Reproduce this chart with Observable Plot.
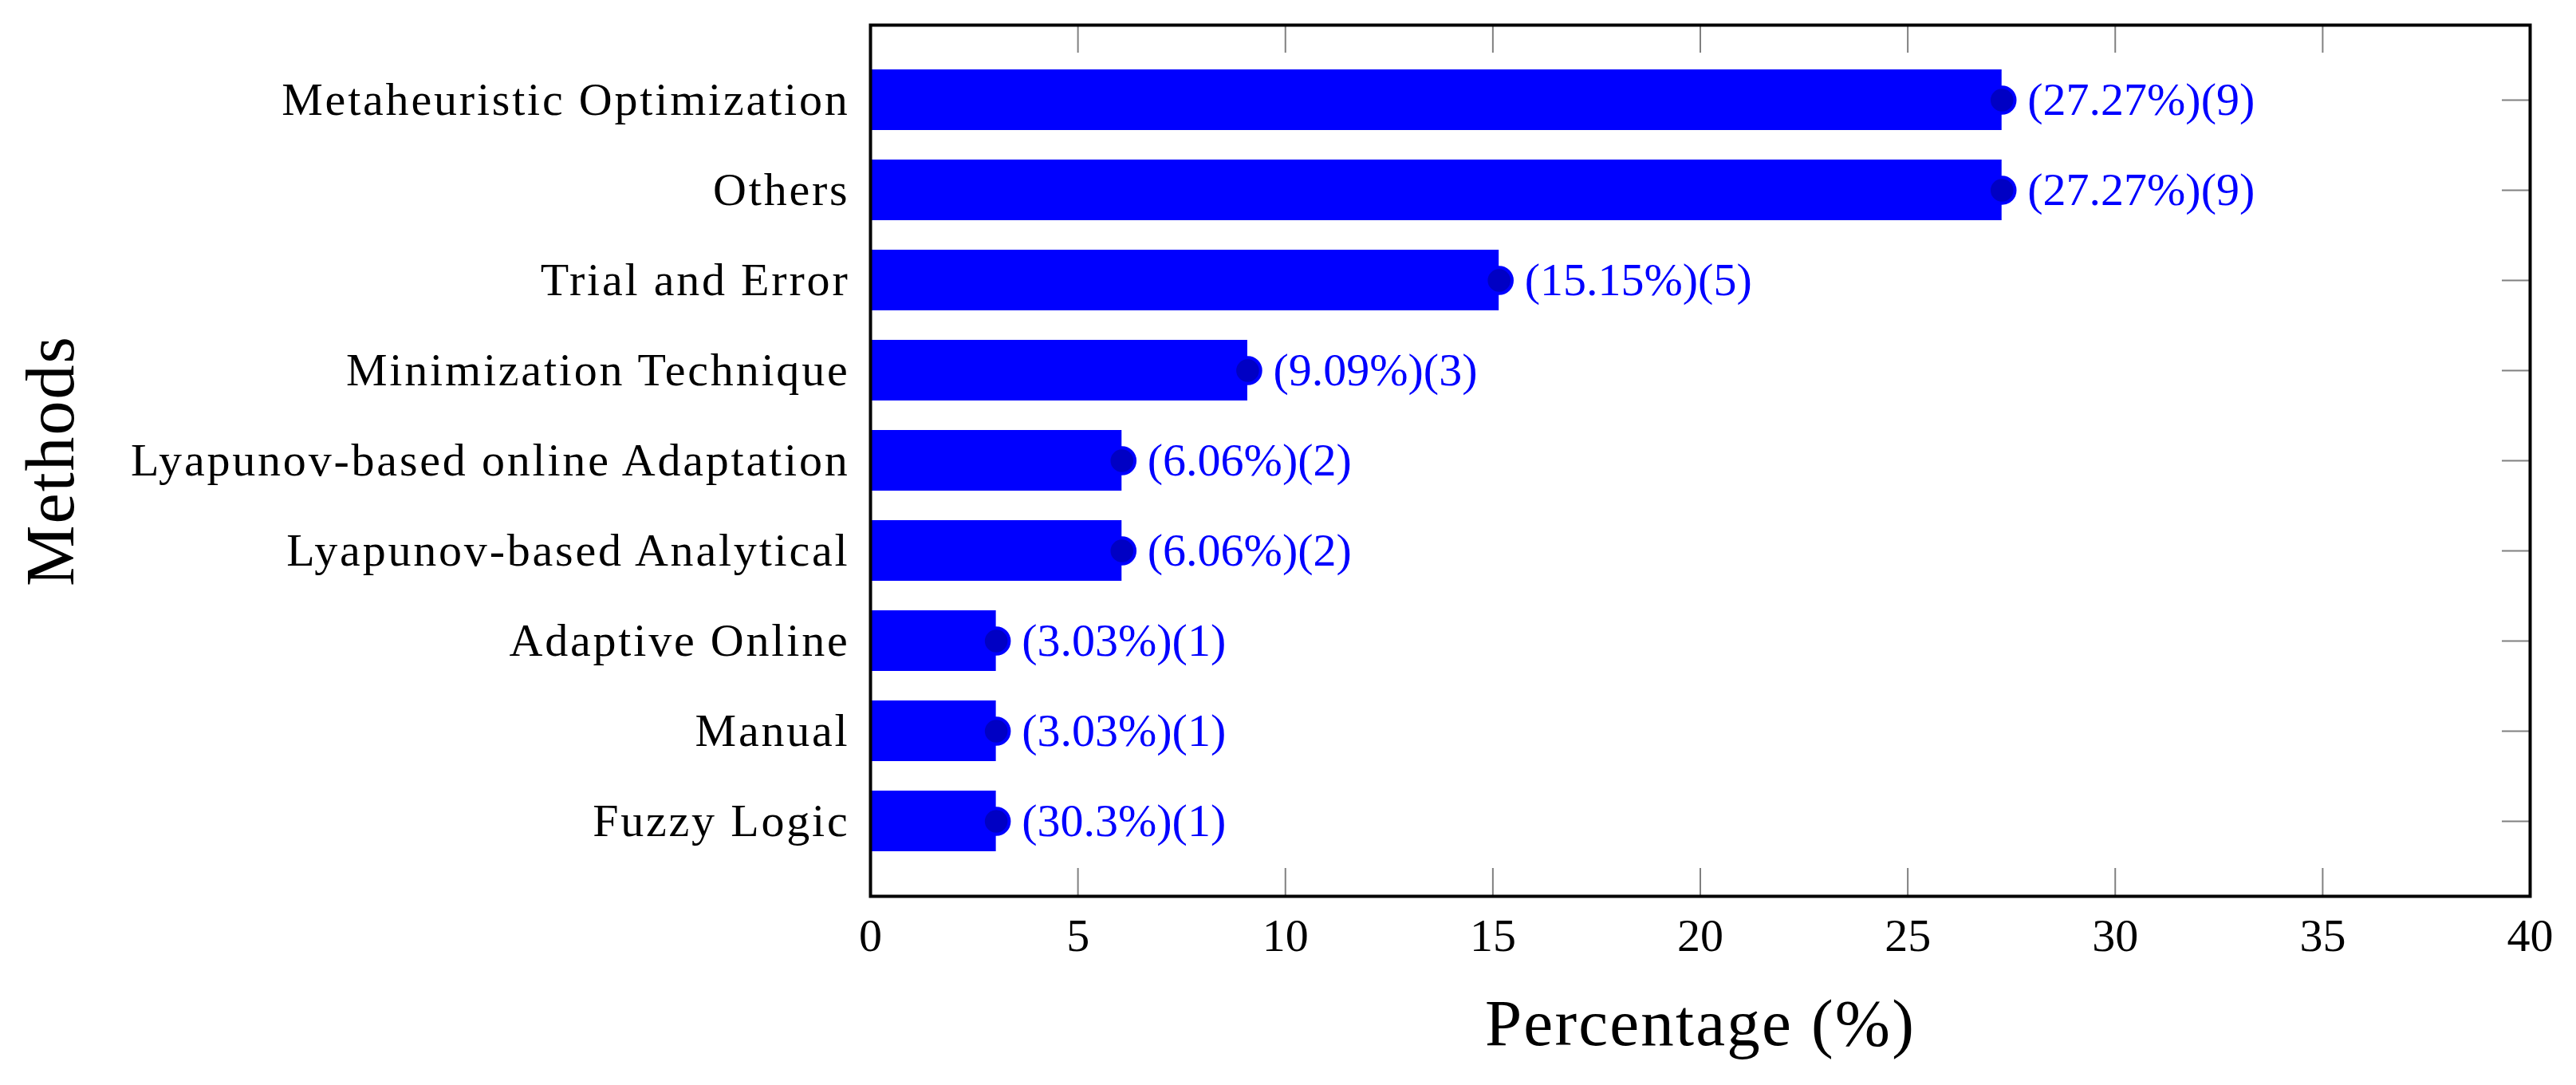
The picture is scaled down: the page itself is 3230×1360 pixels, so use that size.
<!DOCTYPE html>
<html>
<head>
<meta charset="utf-8">
<script src="https://cdn.jsdelivr.net/npm/d3@7"></script>
<script src="https://cdn.jsdelivr.net/npm/@observablehq/plot@0.6"></script>
<style>
html, body { margin: 0; padding: 0; background: #ffffff; }
</style>
</head>
<body>
<div id="chart"></div>
<script>
// ---- Data ----
const methods = [
  "Metaheuristic Optimization",
  "Others",
  "Trial and Error",
  "Minimization Technique",
  "Lyapunov-based online Adaptation",
  "Lyapunov-based Analytical",
  "Adaptive Online",
  "Manual",
  "Fuzzy Logic"
];
const percentages = [27.27, 27.27, 15.15, 9.09, 6.06, 6.06, 3.03, 3.03, 3.03];
const percentLabels = ["27.27%", "27.27%", "15.15%", "9.09%", "6.06%", "6.06%", "3.03%", "3.03%", "30.3%"];
const counts = [9, 9, 5, 3, 2, 2, 1, 1, 1];
const xTicks = [0, 5, 10, 15, 20, 25, 30, 35, 40];
const xInnerTicks = [5, 10, 15, 20, 25, 30, 35];
const xLabel = "Percentage (%)";
const yLabel = "Methods";

const data = methods.map((m, i) => ({
  method: m,
  value: percentages[i],
  label: `(${percentLabels[i]})(${counts[i]})`
}));

// ---- Layout ----
const W = 3230, H = 1360;
const mL = 1091, mR = 58, mT = 31, mB = 237;
const innerW = W - mL - mR, innerH = H - mT - mB;
const tickLen = 35;
const tickStyle = {stroke: "#808080", strokeWidth: 2};

const chart = Plot.plot({
  width: W,
  height: H,
  marginLeft: mL,
  marginRight: mR,
  marginTop: mT,
  marginBottom: mB,
  style: {fontFamily: "'Liberation Serif', serif", fontSize: "58px", background: "#ffffff", color: "black"},
  x: {domain: [0, 40]},
  y: {domain: methods, paddingInner: 0.33, paddingOuter: 0.476},
  marks: [
    Plot.barX(data, {x: "value", y: "method", fill: "#0000ff"}),
    Plot.ruleX(xInnerTicks, {x: d => d, insetTop: innerH - tickLen, ...tickStyle}),
    Plot.ruleX(xInnerTicks, {x: d => d, insetBottom: innerH - tickLen, ...tickStyle}),
    Plot.ruleY(methods, {y: d => d, insetLeft: innerW - tickLen, ...tickStyle}),
    Plot.dot(data, {x: "value", y: "method", r: 16.3, fill: "#0000c4", stroke: "#0000ff", strokeWidth: 4}),
    Plot.text(data, {x: "value", y: "method", text: "label", textAnchor: "start", dx: 32, fill: "#0000ff", fontSize: 58}),
    Plot.axisX({ticks: xTicks, tickSize: 0, tickPadding: 27, fontSize: 58, label: null}),
    Plot.axisY({tickSize: 0, tickPadding: 26, fontSize: 58, label: null}),
    Plot.text([xLabel], {frameAnchor: "bottom", textAnchor: "middle", lineAnchor: "middle", dy: 160, text: d => d, fontSize: 83, fill: "black"}),
    Plot.text([yLabel], {frameAnchor: "left", textAnchor: "middle", lineAnchor: "middle", dx: -1027, rotate: -90, text: d => d, fontSize: 86, fill: "black"}),
    Plot.frame({stroke: "black", strokeWidth: 4})
  ]
});

document.getElementById("chart").appendChild(chart);

// letter spacing to approximate the wider Palatino-like face of the original
chart.querySelectorAll('g[aria-label="y-axis tick label"] text').forEach(t => t.style.letterSpacing = "2.8px");
chart.querySelectorAll("text").forEach(t => {
  if (t.textContent === xLabel) t.style.letterSpacing = "2.2px";
  if (t.textContent === yLabel) t.style.letterSpacing = "2px";
});
</script>
</body>
</html>
